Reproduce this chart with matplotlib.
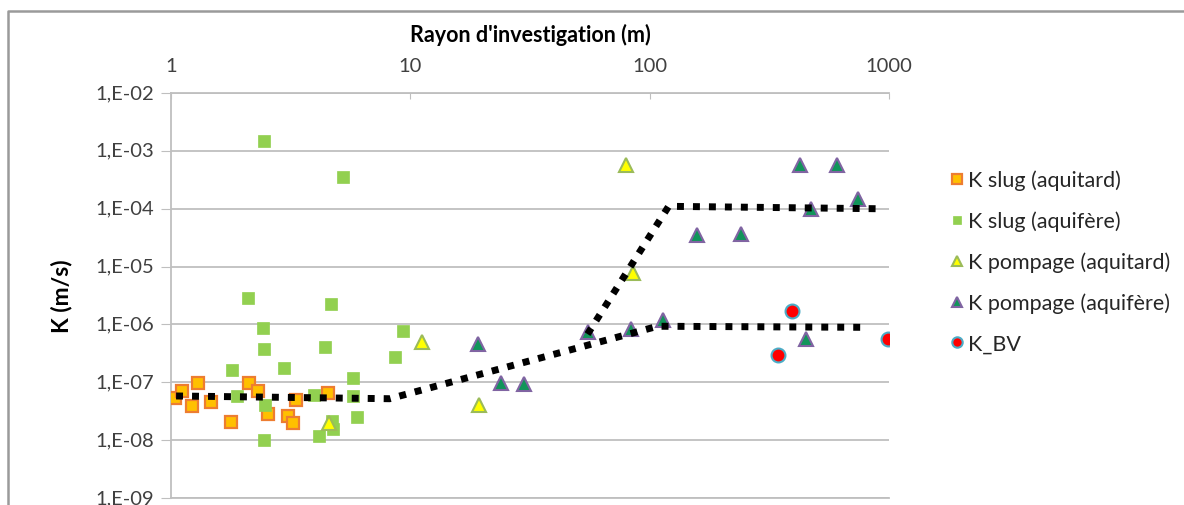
import matplotlib
matplotlib.use("Agg")
import matplotlib.pyplot as plt
from matplotlib.lines import Line2D
from matplotlib.ticker import NullLocator
from matplotlib.transforms import ScaledTranslation
import numpy as np

plt.rcParams["font.family"] = ["Lato", "DejaVu Sans"]

# Rayon d'investigation (m) / K (m/s)
slug_aquitard_r = [1.04, 1.11, 1.30, 1.22, 1.47, 1.78, 2.12, 2.30, 2.55, 3.09, 3.22, 3.33, 4.52]
slug_aquitard_k = [5.4e-8, 7.1e-8, 9.9e-8, 3.9e-8, 4.5e-8, 2.1e-8, 9.9e-8, 7.1e-8, 2.85e-8, 2.6e-8,
                   2.0e-8, 4.9e-8, 6.4e-8]

slug_aquifere_r = [2.45, 5.25, 2.10, 4.65, 2.42, 2.45, 9.35, 8.66, 4.41, 1.79, 2.97, 5.76, 1.89,
                   2.47, 3.96, 5.74, 5.97, 4.70, 4.76, 4.15, 2.45]
slug_aquifere_k = [1.5e-3, 3.5e-4, 2.9e-6, 2.3e-6, 8.6e-7, 3.7e-7, 7.7e-7, 2.75e-7, 4.1e-7, 1.6e-7,
                   1.8e-7, 1.19e-7, 5.7e-8, 4.1e-8, 6.0e-8, 5.7e-8, 2.5e-8, 2.15e-8, 1.55e-8,
                   1.18e-8, 1.0e-8]

pompage_aquitard_r = [4.57, 11.2, 19.4, 79.4, 85.5]
pompage_aquitard_k = [1.95e-8, 5.0e-7, 4.1e-8, 5.8e-4, 7.6e-6]

pompage_aquifere_r = [19.2, 23.9, 29.9, 55, 83.4, 114, 157, 241, 425, 605, 471, 745, 449]
pompage_aquifere_k = [4.5e-7, 9.9e-8, 9.5e-8, 7.5e-7, 8.5e-7, 1.2e-6, 3.5e-5, 3.7e-5, 5.8e-4,
                      5.8e-4, 1.0e-4, 1.5e-4, 5.7e-7]

bv_r = [393, 345, 988]
bv_k = [1.7e-6, 3.0e-7, 5.7e-7]

# tendances (pointillés)
trend_low_r = [1.05, 8.2, 108, 820]
trend_low_k = [5.8e-8, 5.2e-8, 9.3e-7, 8.9e-7]
trend_high_r = [55, 120, 890]
trend_high_k = [6.8e-7, 1.1e-4, 1.0e-4]

x_ticks = [1, 10, 100, 1000]
x_tick_labels = ["1", "10", "100", "1000"]
y_ticks = [1e-9, 1e-8, 1e-7, 1e-6, 1e-5, 1e-4, 1e-3, 1e-2]
y_tick_labels = ["1,E-09", "1,E-08", "1,E-07", "1,E-06", "1,E-05", "1,E-04", "1,E-03", "1,E-02"]

W, H = 1184, 506
fig = plt.figure(figsize=(W / 100, H / 100), dpi=100)
ax = fig.add_axes([171 / W, 1 - 499 / H, (889 - 171) / W, (499 - 94) / H])

ax.set_xscale("log")
ax.set_yscale("log")
ax.set_xlim(1, 1000)
ax.set_ylim(1e-9, 1e-2)

grid_col = "#BFBFBF"
ax.grid(True, axis="y", color=grid_col, linewidth=1.3)
ax.set_axisbelow(True)
ax.spines["right"].set_visible(False)
for side in ("left", "top", "bottom"):
    ax.spines[side].set_color(grid_col)
    ax.spines[side].set_linewidth(1.3)

ax.plot(slug_aquitard_r, slug_aquitard_k, "s", ms=9.2, mfc="#FFC000", mec="#ED7D31", mew=1.6,
        ls="none", label="K slug (aquitard)", zorder=3)
ax.plot(slug_aquifere_r, slug_aquifere_k, "s", ms=8.0, mfc="#92D050", mec="#92D050", mew=0.5,
        ls="none", label="K slug (aquifère)", zorder=3)
ax.plot(pompage_aquitard_r, pompage_aquitard_k, "^", ms=9.5, mfc="#FFFF00", mec="#9BBB59", mew=1.5,
        ls="none", label="K pompage (aquitard)", zorder=3)
ax.plot(pompage_aquifere_r, pompage_aquifere_k, "^", ms=9.5, mfc="#11955A", mec="#8064A2", mew=1.5,
        ls="none", label="K pompage (aquifère)", zorder=3)
ax.plot(bv_r, bv_k, "o", ms=10, mfc="#FF0000", mec="#4BACC6", mew=1.5,
        ls="none", label="K_BV", zorder=3)

for r, k in ((trend_low_r, trend_low_k), (trend_high_r, trend_high_k)):
    ax.plot(r, k, color="black", linewidth=5.0, linestyle=(0, (1, 1.3)),
            dash_capstyle="butt", solid_joinstyle="miter", zorder=4)

ax.xaxis.tick_top()
ax.xaxis.set_label_position("top")
ax.set_xticks(x_ticks)
ax.set_xticklabels(x_tick_labels)
ax.xaxis.set_minor_locator(NullLocator())
ax.tick_params(axis="x", which="major", direction="in", length=4, color=grid_col,
               labelsize=14.5, labelcolor="#404040", pad=14)

ax.set_yticks(y_ticks)
ax.set_yticklabels(y_tick_labels)
ax.yaxis.set_minor_locator(NullLocator())
ax.tick_params(axis="y", which="major", direction="out", length=7, color=grid_col,
               labelsize=14.5, labelcolor="#404040", pad=5)
shift_up = ScaledTranslation(0, 2 / 100, fig.dpi_scale_trans)
for t in ax.get_yticklabels():
    t.set_transform(t.get_transform() + shift_up)

ax.set_xlabel("Rayon d'investigation (m)", fontsize=15.5, fontweight="bold", labelpad=11)
ax.set_ylabel("K (m/s)", fontsize=16.5, fontweight="bold", labelpad=17)

leg = fig.legend(loc="upper left", bbox_to_anchor=(940 / W, 1 - 160 / H), frameon=False,
                 fontsize=15.5, handlelength=0.6, handletextpad=0.2, labelspacing=0.95,
                 markerscale=0.75, borderpad=0)
for t in leg.get_texts():
    t.set_color("#262626")

# cadre de la zone graphique
border = Line2D([8 / W, 8 / W, 1.0], [0.0, 1 - 12 / H, 1 - 12 / H], transform=fig.transFigure,
                color="#9A9A9A", linewidth=1.8)
fig.add_artist(border)

fig.savefig("out.png", dpi=100)
